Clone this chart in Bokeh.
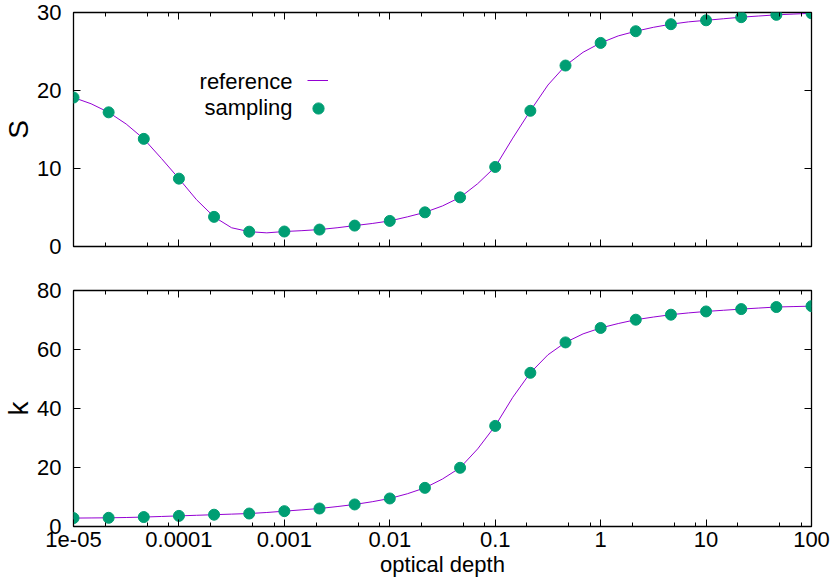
from bokeh.plotting import figure
from bokeh.models import (Range1d, FixedTicker, LogAxis, LinearAxis, Label,
                          Legend, LegendItem, CustomJSTickFormatter)
from bokeh.layouts import column
from bokeh.embed import file_html
from bokeh.resources import INLINE

# ---------------- data ----------------
tau = [1e-05, 2.154e-05, 4.642e-05, 1e-04, 2.154e-04, 4.642e-04,
       1e-03, 2.154e-03, 4.642e-03, 1e-02, 2.154e-02, 4.642e-02,
       1e-01, 2.154e-01, 4.642e-01, 1.0, 2.154, 4.642,
       10.0, 21.54, 46.42, 100.0]
S_samp = [19.1, 17.2, 13.8, 8.7, 3.8, 1.9, 1.92, 2.17, 2.68, 3.28, 4.38,
          6.3, 10.2, 17.4, 23.2, 26.1, 27.6, 28.5, 29.0, 29.4, 29.7, 29.9]
k_samp = [2.85, 2.95, 3.2, 3.6, 4.0, 4.4, 5.2, 6.1, 7.47, 9.5, 13.1,
          19.9, 34.1, 52.1, 62.4, 67.3, 70.1, 71.8, 72.9, 73.7, 74.4, 74.7]

tau_ref = [1e-05, 1.468e-05, 2.154e-05, 3.162e-05, 4.642e-05, 6.813e-05,
           1e-04, 1.468e-04, 2.154e-04, 3.162e-04, 4.642e-04, 6.813e-04,
           1e-03, 1.468e-03, 2.154e-03, 3.162e-03, 4.642e-03, 6.813e-03,
           1e-02, 1.468e-02, 2.154e-02, 3.162e-02, 4.642e-02, 6.813e-02,
           1e-01, 1.468e-01, 2.154e-01, 3.162e-01, 4.642e-01, 6.813e-01,
           1.0, 1.468, 2.154, 3.162, 4.642, 6.813,
           10.0, 14.68, 21.54, 31.62, 46.42, 68.13, 100.0]
S_ref = [19.1, 18.3, 17.2, 15.7, 13.8, 11.3, 8.7, 6.0, 3.8, 2.4, 1.9,
         1.75, 1.92, 2.03, 2.17, 2.4, 2.68, 2.95, 3.28, 3.8, 4.38, 5.2,
         6.3, 8.05, 10.2, 13.9, 17.4, 20.7, 23.2, 24.9, 26.1, 27.0, 27.6,
         28.1, 28.5, 28.8, 29.0, 29.2, 29.4, 29.55, 29.7, 29.8, 29.9]
k_ref = [2.85, 2.9, 2.95, 3.05, 3.2, 3.4, 3.6, 3.8, 4.0, 4.2, 4.4, 4.75,
         5.2, 5.65, 6.1, 6.75, 7.47, 8.4, 9.5, 11.1, 13.1, 16.1, 19.9,
         26.3, 34.1, 43.8, 52.1, 58.2, 62.4, 65.3, 67.3, 68.8, 70.1, 71.0,
         71.8, 72.4, 72.9, 73.3, 73.7, 74.05, 74.4, 74.55, 74.7]

x_ticks = [1e-05, 1e-04, 1e-03, 1e-02, 1e-01, 1, 10, 100]
x_tick_labels = ["1e-05", "0.0001", "0.001", "0.01", "0.1", "1", "10", "100"]
x_minor = [2e-05, 5e-05, 8e-05, 2e-04, 5e-04, 8e-04, 2e-03, 5e-03, 8e-03,
           2e-02, 5e-02, 8e-02, 2e-01, 5e-01, 8e-01, 2, 5, 8, 20, 50, 80]
S_ticks = [0, 10, 20, 30]
k_ticks = [0, 20, 40, 60, 80]
series_names = ["reference", "sampling"]
y_names = ["S", "k"]
x_name = "optical depth"

FONT = "Liberation Sans"
PURPLE = "#9400d3"
GREEN = "#009e73"
TICK_FS = "22px"
YLAB_FS = "28px"

W = 830
BL, BR = 72, 19

blank = CustomJSTickFormatter(code="return ''")


def make_fig(height, ylim, yticks, top_b, bottom_b, show_x, ylabel):
    p = figure(width=W, height=height, x_axis_type="log",
               x_range=Range1d(1e-05, 100), y_range=Range1d(*ylim),
               output_backend="svg", toolbar_location=None,
               min_border_left=BL, min_border_right=BR,
               min_border_top=top_b, min_border_bottom=bottom_b)
    p.grid.visible = False
    p.background_fill_color = "white"
    p.border_fill_color = "white"
    p.outline_line_color = "black"
    p.outline_line_width = 1.3
    p.add_layout(LogAxis(), "above")
    p.add_layout(LinearAxis(), "right")
    overrides = {t: lab for t, lab in zip(x_ticks, x_tick_labels)}
    for ax in p.xaxis:
        ax.ticker = FixedTicker(ticks=x_ticks, minor_ticks=x_minor)
    for ax in p.yaxis:
        ax.ticker = FixedTicker(ticks=yticks, minor_ticks=[])
    for ax in list(p.xaxis) + list(p.yaxis):
        ax.axis_line_color = None
        ax.major_tick_in = 7
        ax.major_tick_out = 0
        ax.minor_tick_in = 4
        ax.minor_tick_out = 0
        ax.major_tick_line_color = "black"
        ax.minor_tick_line_color = "black"
        ax.major_label_text_font = FONT
        ax.major_label_text_font_size = TICK_FS
        ax.major_label_text_color = "black"
    hidden = [p.above[0], p.right[0]]
    if not show_x:
        hidden.append(p.below[0])
    else:
        p.below[0].major_label_overrides = overrides
        p.below[0].major_label_standoff = 5
        p.below[0].axis_label = x_name
        p.below[0].axis_label_standoff = 2
        p.below[0].axis_label_text_font = FONT
        p.below[0].axis_label_text_font_size = TICK_FS
        p.below[0].axis_label_text_font_style = "normal"
        p.below[0].axis_label_text_color = "black"
    for ax in hidden:
        ax.formatter = blank
        ax.major_label_text_font_size = "1px"
        ax.major_label_standoff = 0
    left = p.left[0]
    left.major_label_standoff = 12
    left.axis_label = ylabel
    left.axis_label_standoff = 0
    left.axis_label_text_font = FONT
    left.axis_label_text_font_size = YLAB_FS
    left.axis_label_text_font_style = "normal"
    left.axis_label_text_color = "black"
    return p


# ---------------- top panel: S ----------------
H1, T1, B1 = 268, 12, 22
p1 = make_fig(H1, (0, 30), S_ticks, T1, B1, False, y_names[0])
r_line1 = p1.line(tau_ref, S_ref, line_color=PURPLE, line_width=1)
r_pts1 = p1.scatter(tau, S_samp, size=11, fill_color=GREEN, line_color=GREEN)

FB = H1 - T1 - B1          # frame height
fb_page = T1 + FB          # frame bottom on the page
leg_line = Legend(items=[LegendItem(label=" ", renderers=[r_line1])],
                  location=(306 - BL, fb_page - 80.3 - 5),
                  glyph_width=21, glyph_height=10, label_height=10,
                  label_width=0, label_standoff=0, padding=0, margin=0,
                  spacing=0, label_text_font_size="1px",
                  border_line_alpha=0, background_fill_alpha=0)
leg_pts = Legend(items=[LegendItem(label=" ", renderers=[r_pts1])],
                 location=(316.5 - 14 - BL, fb_page - 107.7 - 14),
                 glyph_width=28, glyph_height=28, label_height=28,
                 label_width=0, label_standoff=0, padding=0, margin=0,
                 spacing=0, label_text_font_size="1px",
                 border_line_alpha=0, background_fill_alpha=0)
p1.add_layout(leg_line, "center")
p1.add_layout(leg_pts, "center")
for name, base in zip(series_names, [80.5, 106.5]):
    p1.add_layout(Label(x=291 - BL, y=fb_page - base, x_units="screen",
                        y_units="screen", text=name, text_align="right",
                        text_baseline="alphabetic", text_font=FONT,
                        text_font_size=TICK_FS, text_color="black"))

# ---------------- bottom panel: k ----------------
H2, T2, B2 = 312, 22, 54
p2 = make_fig(H2, (0, 80), k_ticks, T2, B2, True, y_names[1])
p2.line(tau_ref, k_ref, line_color=PURPLE, line_width=1)
p2.scatter(tau, k_samp, size=11, fill_color=GREEN, line_color=GREEN)

layout = column(p1, p2, spacing=0)
open("out.html", "w").write(file_html(layout, INLINE))
